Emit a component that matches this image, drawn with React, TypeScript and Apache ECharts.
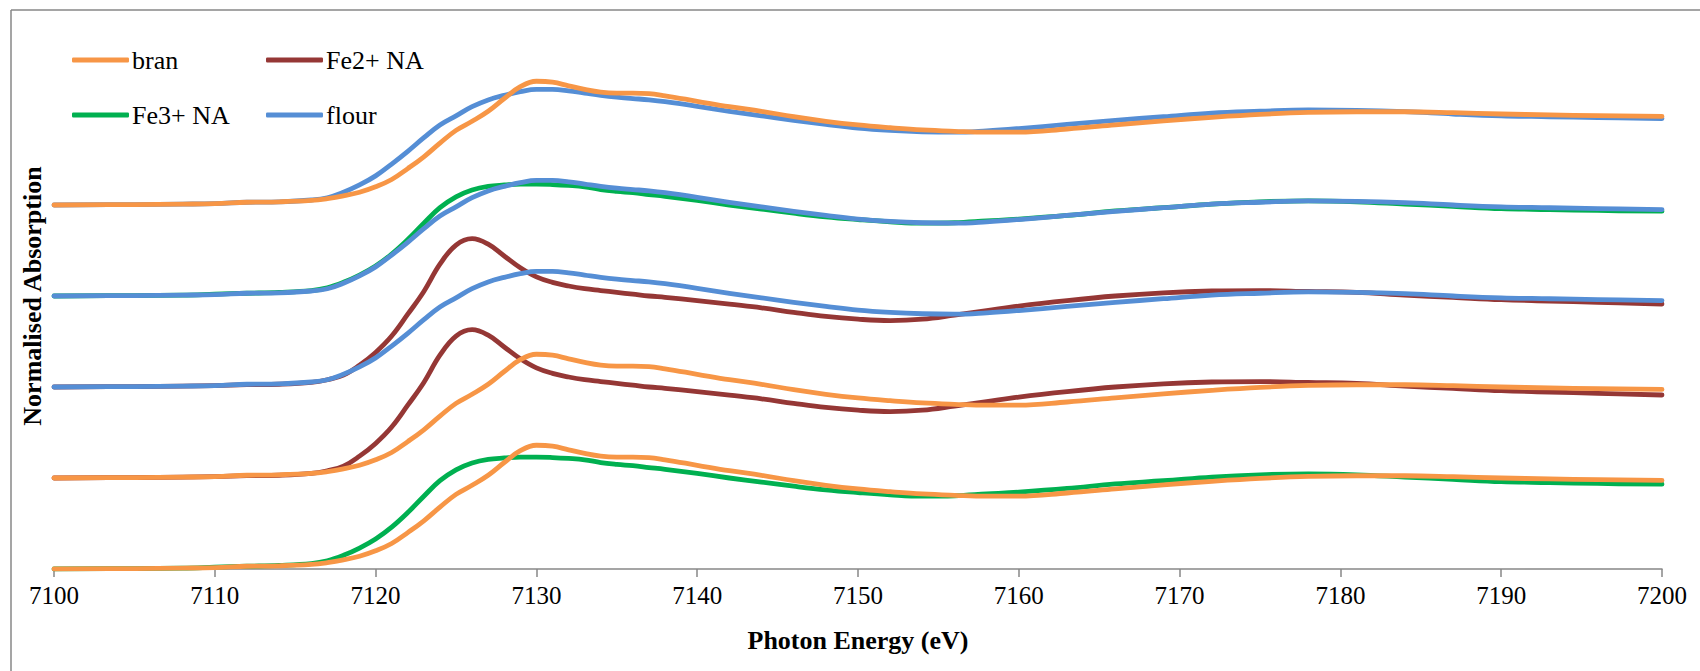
import React, { useEffect, useRef } from "react";
import * as echarts from "echarts";

// Photon energy (eV)
const energies = [
  7100, 7105, 7108, 7110, 7112, 7114, 7116,
  7117, 7118, 7119, 7120, 7121, 7122, 7123, 7124, 7125, 7126, 7127, 7128, 7129, 7130,
  7131, 7132, 7133, 7134, 7135, 7136, 7137, 7138,
  7140, 7142, 7144, 7146, 7148, 7150, 7152, 7154, 7156, 7158, 7160,
  7163, 7166, 7169, 7172, 7175, 7178, 7181, 7184, 7187, 7190, 7193, 7196,
  7200,
];

// Normalised absorption of each sample
const bran = [
  0, 0.005, 0.01, 0.015, 0.03, 0.035, 0.05,
  0.07, 0.1, 0.14, 0.2, 0.28, 0.4, 0.53, 0.68, 0.82, 0.92, 1.03, 1.17, 1.3, 1.36,
  1.35, 1.31, 1.27, 1.24, 1.23, 1.23, 1.225, 1.2,
  1.14, 1.08, 1.03, 0.97, 0.92, 0.88, 0.85, 0.825, 0.81, 0.8, 0.8,
  0.835, 0.88, 0.925, 0.963, 0.995, 1.017, 1.025, 1.025, 1.015, 1.0, 0.99, 0.982,
  0.973,
];

const fe2NA = [
  0, 0.005, 0.01, 0.015, 0.025, 0.03, 0.05,
  0.08, 0.13, 0.24, 0.38, 0.56, 0.8, 1.05, 1.35, 1.56, 1.63, 1.57, 1.44, 1.31, 1.21,
  1.15, 1.11, 1.08, 1.06, 1.04, 1.02, 1.0, 0.985,
  0.95, 0.91, 0.87, 0.82, 0.775, 0.745, 0.73, 0.745, 0.79, 0.84, 0.89,
  0.95, 1.0, 1.035, 1.055, 1.06, 1.05, 1.04, 1.01, 0.985, 0.96, 0.945, 0.93,
  0.912,
];

const fe3NA = [
  0, 0.005, 0.01, 0.02, 0.03, 0.04, 0.06,
  0.09, 0.15, 0.23, 0.33, 0.46, 0.62, 0.8, 0.97, 1.09, 1.165, 1.205, 1.22, 1.23, 1.23,
  1.225, 1.215, 1.2, 1.17, 1.15, 1.135, 1.115, 1.095,
  1.05, 1.0, 0.955, 0.91, 0.87, 0.84, 0.815, 0.8, 0.805, 0.825, 0.845,
  0.885, 0.935, 0.97, 1.01, 1.035, 1.045, 1.035, 1.01, 0.985, 0.96, 0.95, 0.94,
  0.932,
];

const flour = [
  0, 0.005, 0.01, 0.015, 0.03, 0.035, 0.055,
  0.08, 0.14, 0.22, 0.32, 0.45, 0.59, 0.74, 0.88, 0.98, 1.08, 1.155, 1.205, 1.245, 1.27,
  1.27, 1.255, 1.23, 1.205, 1.185, 1.17, 1.155, 1.135,
  1.085, 1.03, 0.98, 0.93, 0.885, 0.845, 0.82, 0.805, 0.8, 0.815, 0.84,
  0.885, 0.93, 0.97, 1.01, 1.03, 1.045, 1.04, 1.025, 1.0, 0.98, 0.97, 0.96,
  0.95,
];

// Vertical offsets of the stacked comparison pairs (bottom to top)
const stackOffsets = [0, 1, 2, 3, 4];
const stackMembers = [
  ["Fe3+ NA", "bran"],
  ["Fe2+ NA", "bran"],
  ["Fe2+ NA", "flour"],
  ["Fe3+ NA", "flour"],
  ["bran", "flour"],
];

// Drawing order (later is drawn on top)
const sampleOrder = ["Fe2+ NA", "Fe3+ NA", "flour", "bran"];
const sampleValues: Record<string, number[]> = {
  bran: bran,
  "Fe2+ NA": fe2NA,
  "Fe3+ NA": fe3NA,
  flour: flour,
};
const sampleColors: Record<string, string> = {
  bran: "#F79646",
  "Fe2+ NA": "#953735",
  "Fe3+ NA": "#00B050",
  flour: "#558ED5",
};

const xTickInterval = 10;
const xMin = 7100;
const xMax = 7200;

const FONT = "'Times New Roman', 'Liberation Serif', serif";

export default function App() {
  const ref = useRef<HTMLDivElement>(null);

  useEffect(() => {
    document.body.style.margin = "0";
    if (!ref.current) return;
    const chart = echarts.init(ref.current, undefined, { renderer: "svg" });

    const series: any[] = [];
    sampleOrder.forEach((name) => {
      stackMembers.forEach((members, k) => {
        if (!members.includes(name)) return;
        const vals = sampleValues[name];
        series.push({
          name,
          type: "line",
          symbol: "none",
          smooth: 0.4,
          data: energies.map((e, i) => [e, vals[i] + stackOffsets[k]]),
          lineStyle: { color: sampleColors[name], width: 4.8, cap: "round", join: "round" },
          itemStyle: { color: sampleColors[name] },
          emphasis: { disabled: true },
        });
      });
    });

    const legendBase = {
      padding: 0,
      icon: "roundRect",
      itemWidth: 57,
      itemHeight: 5,
      itemGap: 0,
      selectedMode: false,
      textStyle: {
        fontFamily: FONT,
        fontSize: 26,
        fontWeight: "normal",
        color: "#000",
        lineHeight: 26,
        padding: [0, 0, 0, -2],
      },
    };

    chart.setOption({
      animation: false,
      backgroundColor: "#ffffff",
      textStyle: { fontFamily: FONT, color: "#000" },
      grid: { left: 54, right: 38, top: 23, bottom: 102 },
      legend: [
        { ...legendBase, data: ["bran"], left: 72, top: 47 },
        { ...legendBase, data: ["Fe2+ NA"], left: 266, top: 47 },
        { ...legendBase, data: ["Fe3+ NA"], left: 72, top: 102 },
        { ...legendBase, data: ["flour"], left: 266, top: 102 },
      ],
      xAxis: {
        type: "value",
        min: xMin,
        max: xMax,
        interval: xTickInterval,
        name: "Photon Energy (eV)",
        nameLocation: "middle",
        nameGap: 58,
        nameTextStyle: { fontFamily: FONT, fontSize: 26, fontWeight: "bold", color: "#000" },
        axisLine: { show: true, onZero: false, lineStyle: { color: "#878787", width: 1.5 } },
        axisTick: { show: true, length: 8, lineStyle: { color: "#878787", width: 1.5 } },
        axisLabel: {
          fontFamily: FONT,
          fontSize: 25,
          fontWeight: "normal",
          color: "#000",
          margin: 14,
          formatter: (v: number) => String(v),
        },
        splitLine: { show: false },
      },
      yAxis: {
        type: "value",
        min: 0,
        max: 6,
        name: "Normalised Absorption",
        nameLocation: "middle",
        nameRotate: 90,
        nameGap: 9,
        nameTextStyle: { fontFamily: FONT, fontSize: 26, fontWeight: "bold", color: "#000" },
        axisLine: { show: false },
        axisTick: { show: false },
        axisLabel: { show: false },
        splitLine: { show: false },
      },
      graphic: [
        {
          type: "line",
          shape: { x1: 11, y1: 10, x2: 1700, y2: 10 },
          style: { stroke: "#878787", lineWidth: 1.5 },
          silent: true,
        },
        {
          type: "line",
          shape: { x1: 11, y1: 10, x2: 11, y2: 671 },
          style: { stroke: "#878787", lineWidth: 1.5 },
          silent: true,
        },
      ],
      series,
    });

    return () => {
      chart.dispose();
    };
  }, []);

  return <div ref={ref} style={{ width: 1700, height: 671 }} />;
}
